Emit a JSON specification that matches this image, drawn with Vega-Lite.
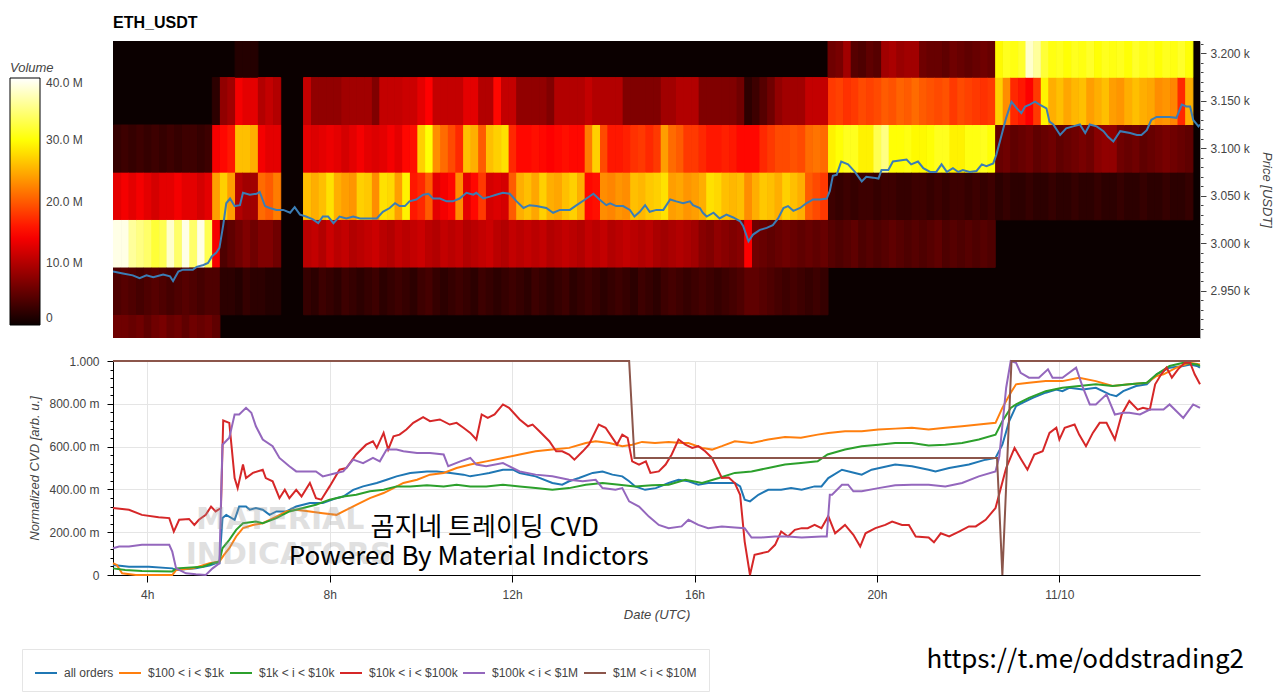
{
"$schema": "https://vega.github.io/schema/vega-lite/v6.json",
"padding": {"left": 10, "top": 15, "right": 4, "bottom": 0},
"background": "white",
"config": {"font": "Liberation Sans", "view": {"stroke": null}},
"datasets": {
"heat": [
{"t":195,"p":2875,"v":6},{"t":195,"p":2925,"v":4},{"t":195,"p":2975,"v":39},{"t":195,"p":3025,"v":13},{"t":195,"p":3075,"v":2.5},
{"t":205,"p":2875,"v":6},{"t":205,"p":2925,"v":4.5},{"t":205,"p":2975,"v":39},{"t":205,"p":3025,"v":14},{"t":205,"p":3075,"v":3},
{"t":215,"p":2875,"v":5.5},{"t":215,"p":2925,"v":4},{"t":215,"p":2975,"v":36},{"t":215,"p":3025,"v":13},{"t":215,"p":3075,"v":2.5},
{"t":225,"p":2875,"v":6},{"t":225,"p":2925,"v":3.5},{"t":225,"p":2975,"v":35},{"t":225,"p":3025,"v":14},{"t":225,"p":3075,"v":3},
{"t":235,"p":2875,"v":5},{"t":235,"p":2925,"v":4},{"t":235,"p":2975,"v":34},{"t":235,"p":3025,"v":13},{"t":235,"p":3075,"v":2.5},
{"t":245,"p":2875,"v":6},{"t":245,"p":2925,"v":4.5},{"t":245,"p":2975,"v":32},{"t":245,"p":3025,"v":12},{"t":245,"p":3075,"v":3},
{"t":255,"p":2875,"v":6.5},{"t":255,"p":2925,"v":4},{"t":255,"p":2975,"v":33},{"t":255,"p":3025,"v":13},{"t":255,"p":3075,"v":2.5},
{"t":265,"p":2875,"v":5.5},{"t":265,"p":2925,"v":3.5},{"t":265,"p":2975,"v":38},{"t":265,"p":3025,"v":13},{"t":265,"p":3075,"v":3},
{"t":275,"p":2875,"v":6},{"t":275,"p":2925,"v":4},{"t":275,"p":2975,"v":34},{"t":275,"p":3025,"v":14},{"t":275,"p":3075,"v":2.5},
{"t":285,"p":2875,"v":5},{"t":285,"p":2925,"v":4.5},{"t":285,"p":2975,"v":39},{"t":285,"p":3025,"v":13},{"t":285,"p":3075,"v":3},
{"t":295,"p":2875,"v":6},{"t":295,"p":2925,"v":4},{"t":295,"p":2975,"v":34},{"t":295,"p":3025,"v":13},{"t":295,"p":3075,"v":3},
{"t":305,"p":2875,"v":5.5},{"t":305,"p":2925,"v":3.5},{"t":305,"p":2975,"v":39},{"t":305,"p":3025,"v":12},{"t":305,"p":3075,"v":2.5},
{"t":315,"p":2875,"v":6},{"t":315,"p":2925,"v":4},{"t":315,"p":2975,"v":33},{"t":315,"p":3025,"v":13},{"t":315,"p":3075,"v":3},
{"t":325,"p":2875,"v":5},{"t":325,"p":2925,"v":4},{"t":325,"p":2975,"v":14},{"t":325,"p":3025,"v":24},{"t":325,"p":3075,"v":14},{"t":325,"p":3125,"v":2},
{"t":335,"p":2925,"v":2},{"t":335,"p":2975,"v":4},{"t":335,"p":3025,"v":27},{"t":335,"p":3075,"v":15},{"t":335,"p":3125,"v":8},
{"t":345,"p":2925,"v":2},{"t":345,"p":2975,"v":5},{"t":345,"p":3025,"v":24},{"t":345,"p":3075,"v":16},{"t":345,"p":3125,"v":9},
{"t":355,"p":2925,"v":1.5},{"t":355,"p":2975,"v":6},{"t":355,"p":3025,"v":10},{"t":355,"p":3075,"v":26},{"t":355,"p":3125,"v":14},{"t":355,"p":3175,"v":1.5},
{"t":365,"p":2925,"v":2.5},{"t":365,"p":2975,"v":7},{"t":365,"p":3025,"v":9},{"t":365,"p":3075,"v":26},{"t":365,"p":3125,"v":13},{"t":365,"p":3175,"v":1.5},
{"t":375,"p":2925,"v":2},{"t":375,"p":2975,"v":6},{"t":375,"p":3025,"v":9},{"t":375,"p":3075,"v":25},{"t":375,"p":3125,"v":13},{"t":375,"p":3175,"v":1.5},
{"t":385,"p":2925,"v":2},{"t":385,"p":2975,"v":7},{"t":385,"p":3025,"v":21},{"t":385,"p":3075,"v":14},{"t":385,"p":3125,"v":10},
{"t":395,"p":2925,"v":1.5},{"t":395,"p":2975,"v":7},{"t":395,"p":3025,"v":20},{"t":395,"p":3075,"v":13},{"t":395,"p":3125,"v":11},
{"t":405,"p":2925,"v":1.5},{"t":405,"p":2975,"v":6},{"t":405,"p":3025,"v":22},{"t":405,"p":3075,"v":13},{"t":405,"p":3125,"v":10},
{"t":445,"p":2925,"v":2.5},{"t":445,"p":2975,"v":10.5},{"t":445,"p":3025,"v":26},{"t":445,"p":3075,"v":13},{"t":445,"p":3125,"v":11},
{"t":455,"p":2925,"v":2},{"t":455,"p":2975,"v":11},{"t":455,"p":3025,"v":25},{"t":455,"p":3075,"v":12.5},{"t":455,"p":3125,"v":8},
{"t":465,"p":2925,"v":3},{"t":465,"p":2975,"v":10},{"t":465,"p":3025,"v":26},{"t":465,"p":3075,"v":13},{"t":465,"p":3125,"v":8},
{"t":475,"p":2925,"v":2.5},{"t":475,"p":2975,"v":11.5},{"t":475,"p":3025,"v":28},{"t":475,"p":3075,"v":13.5},{"t":475,"p":3125,"v":8},
{"t":485,"p":2925,"v":2},{"t":485,"p":2975,"v":10.5},{"t":485,"p":3025,"v":25},{"t":485,"p":3075,"v":13},{"t":485,"p":3125,"v":8},
{"t":495,"p":2925,"v":3},{"t":495,"p":2975,"v":11},{"t":495,"p":3025,"v":24},{"t":495,"p":3075,"v":12},{"t":495,"p":3125,"v":9},
{"t":505,"p":2925,"v":2.5},{"t":505,"p":2975,"v":10},{"t":505,"p":3025,"v":23.5},{"t":505,"p":3075,"v":13},{"t":505,"p":3125,"v":9},
{"t":515,"p":2925,"v":2},{"t":515,"p":2975,"v":10.5},{"t":515,"p":3025,"v":27},{"t":515,"p":3075,"v":14},{"t":515,"p":3125,"v":9},
{"t":525,"p":2925,"v":2.5},{"t":525,"p":2975,"v":11},{"t":525,"p":3025,"v":26.5},{"t":525,"p":3075,"v":13},{"t":525,"p":3125,"v":9},
{"t":535,"p":2925,"v":3},{"t":535,"p":2975,"v":11.5},{"t":535,"p":3025,"v":23},{"t":535,"p":3075,"v":12.5},{"t":535,"p":3125,"v":7},
{"t":545,"p":2925,"v":2},{"t":545,"p":2975,"v":10.5},{"t":545,"p":3025,"v":28},{"t":545,"p":3075,"v":13},{"t":545,"p":3125,"v":11},
{"t":555,"p":2925,"v":2.5},{"t":555,"p":2975,"v":10},{"t":555,"p":3025,"v":27.5},{"t":555,"p":3075,"v":14},{"t":555,"p":3125,"v":11},
{"t":565,"p":2925,"v":3},{"t":565,"p":2975,"v":11},{"t":565,"p":3025,"v":24},{"t":565,"p":3075,"v":13},{"t":565,"p":3125,"v":11},
{"t":575,"p":2925,"v":2.5},{"t":575,"p":2975,"v":10.5},{"t":575,"p":3025,"v":29},{"t":575,"p":3075,"v":15},{"t":575,"p":3125,"v":11.5},
{"t":585,"p":2925,"v":2},{"t":585,"p":2975,"v":11},{"t":585,"p":3025,"v":16},{"t":585,"p":3075,"v":15.5},{"t":585,"p":3125,"v":11.5},
{"t":595,"p":2925,"v":3},{"t":595,"p":2975,"v":11.5},{"t":595,"p":3025,"v":17},{"t":595,"p":3075,"v":27},{"t":595,"p":3125,"v":13},
{"t":605,"p":2925,"v":3.5},{"t":605,"p":2975,"v":10.5},{"t":605,"p":3025,"v":20},{"t":605,"p":3075,"v":30},{"t":605,"p":3125,"v":14.6},
{"t":615,"p":2925,"v":2.5},{"t":615,"p":2975,"v":10},{"t":615,"p":3025,"v":13},{"t":615,"p":3075,"v":23},{"t":615,"p":3125,"v":11},
{"t":625,"p":2925,"v":2},{"t":625,"p":2975,"v":11},{"t":625,"p":3025,"v":14},{"t":625,"p":3075,"v":21},{"t":625,"p":3125,"v":11},
{"t":635,"p":2925,"v":2.5},{"t":635,"p":2975,"v":10.5},{"t":635,"p":3025,"v":15},{"t":635,"p":3075,"v":19},{"t":635,"p":3125,"v":11},
{"t":645,"p":2925,"v":3},{"t":645,"p":2975,"v":11},{"t":645,"p":3025,"v":23},{"t":645,"p":3075,"v":17},{"t":645,"p":3125,"v":11},
{"t":655,"p":2925,"v":2.5},{"t":655,"p":2975,"v":10},{"t":655,"p":3025,"v":13},{"t":655,"p":3075,"v":26},{"t":655,"p":3125,"v":13},
{"t":665,"p":2925,"v":2},{"t":665,"p":2975,"v":10.5},{"t":665,"p":3025,"v":15},{"t":665,"p":3075,"v":25},{"t":665,"p":3125,"v":13},
{"t":675,"p":2925,"v":3},{"t":675,"p":2975,"v":11},{"t":675,"p":3025,"v":18},{"t":675,"p":3075,"v":20},{"t":675,"p":3125,"v":10},
{"t":685,"p":2925,"v":2.5},{"t":685,"p":2975,"v":11.5},{"t":685,"p":3025,"v":12},{"t":685,"p":3075,"v":26},{"t":685,"p":3125,"v":10},
{"t":695,"p":2925,"v":2},{"t":695,"p":2975,"v":10.5},{"t":695,"p":3025,"v":12.5},{"t":695,"p":3075,"v":27},{"t":695,"p":3125,"v":15},
{"t":705,"p":2925,"v":2.5},{"t":705,"p":2975,"v":10},{"t":705,"p":3025,"v":12},{"t":705,"p":3075,"v":28},{"t":705,"p":3125,"v":11},
{"t":715,"p":2925,"v":3},{"t":715,"p":2975,"v":11},{"t":715,"p":3025,"v":20},{"t":715,"p":3075,"v":17},{"t":715,"p":3125,"v":11},
{"t":725,"p":2925,"v":2.5},{"t":725,"p":2975,"v":10.5},{"t":725,"p":3025,"v":25},{"t":725,"p":3075,"v":15},{"t":725,"p":3125,"v":8},
{"t":735,"p":2925,"v":2},{"t":735,"p":2975,"v":11},{"t":735,"p":3025,"v":26},{"t":735,"p":3075,"v":15},{"t":735,"p":3125,"v":8},
{"t":745,"p":2925,"v":3},{"t":745,"p":2975,"v":10.5},{"t":745,"p":3025,"v":24.5},{"t":745,"p":3075,"v":15.5},{"t":745,"p":3125,"v":8},
{"t":755,"p":2925,"v":2.5},{"t":755,"p":2975,"v":11},{"t":755,"p":3025,"v":27},{"t":755,"p":3075,"v":15},{"t":755,"p":3125,"v":8},
{"t":765,"p":2925,"v":2},{"t":765,"p":2975,"v":10},{"t":765,"p":3025,"v":25},{"t":765,"p":3075,"v":14.5},{"t":765,"p":3125,"v":7},
{"t":775,"p":2925,"v":2.5},{"t":775,"p":2975,"v":10.5},{"t":775,"p":3025,"v":24.5},{"t":775,"p":3075,"v":15},{"t":775,"p":3125,"v":10},
{"t":785,"p":2925,"v":3},{"t":785,"p":2975,"v":11},{"t":785,"p":3025,"v":26},{"t":785,"p":3075,"v":15.5},{"t":785,"p":3125,"v":10},
{"t":795,"p":2925,"v":2},{"t":795,"p":2975,"v":10.5},{"t":795,"p":3025,"v":27},{"t":795,"p":3075,"v":15},{"t":795,"p":3125,"v":10},
{"t":805,"p":2925,"v":2.5},{"t":805,"p":2975,"v":10},{"t":805,"p":3025,"v":25},{"t":805,"p":3075,"v":15},{"t":805,"p":3125,"v":10},
{"t":815,"p":2925,"v":3},{"t":815,"p":2975,"v":11},{"t":815,"p":3025,"v":15},{"t":815,"p":3075,"v":22},{"t":815,"p":3125,"v":11},
{"t":825,"p":2925,"v":2.5},{"t":825,"p":2975,"v":10.5},{"t":825,"p":3025,"v":15.5},{"t":825,"p":3075,"v":27},{"t":825,"p":3125,"v":10},
{"t":835,"p":2925,"v":2},{"t":835,"p":2975,"v":11},{"t":835,"p":3025,"v":23},{"t":835,"p":3075,"v":19},{"t":835,"p":3125,"v":10},
{"t":845,"p":2925,"v":2.5},{"t":845,"p":2975,"v":10},{"t":845,"p":3025,"v":22.5},{"t":845,"p":3075,"v":16},{"t":845,"p":3125,"v":10},
{"t":855,"p":2925,"v":3},{"t":855,"p":2975,"v":10.5},{"t":855,"p":3025,"v":23.5},{"t":855,"p":3075,"v":16},{"t":855,"p":3125,"v":10},
{"t":865,"p":2925,"v":2.5},{"t":865,"p":2975,"v":11},{"t":865,"p":3025,"v":23},{"t":865,"p":3075,"v":16.5},{"t":865,"p":3125,"v":7},
{"t":875,"p":2925,"v":2},{"t":875,"p":2975,"v":10.5},{"t":875,"p":3025,"v":26},{"t":875,"p":3075,"v":17.5},{"t":875,"p":3125,"v":7},
{"t":885,"p":2925,"v":3},{"t":885,"p":2975,"v":10},{"t":885,"p":3025,"v":25.5},{"t":885,"p":3075,"v":18},{"t":885,"p":3125,"v":7},
{"t":895,"p":2925,"v":2.5},{"t":895,"p":2975,"v":10.5},{"t":895,"p":3025,"v":26.5},{"t":895,"p":3075,"v":17},{"t":895,"p":3125,"v":7},
{"t":905,"p":2925,"v":2},{"t":905,"p":2975,"v":9.5},{"t":905,"p":3025,"v":27},{"t":905,"p":3075,"v":18},{"t":905,"p":3125,"v":7},
{"t":915,"p":2925,"v":3},{"t":915,"p":2975,"v":9},{"t":915,"p":3025,"v":28},{"t":915,"p":3075,"v":24},{"t":915,"p":3125,"v":9},
{"t":925,"p":2925,"v":3.5},{"t":925,"p":2975,"v":9.5},{"t":925,"p":3025,"v":24},{"t":925,"p":3075,"v":21},{"t":925,"p":3125,"v":9},
{"t":935,"p":2925,"v":3},{"t":935,"p":2975,"v":10},{"t":935,"p":3025,"v":24.5},{"t":935,"p":3075,"v":20},{"t":935,"p":3125,"v":10},
{"t":945,"p":2925,"v":2.5},{"t":945,"p":2975,"v":9.5},{"t":945,"p":3025,"v":23.5},{"t":945,"p":3075,"v":18},{"t":945,"p":3125,"v":10},
{"t":955,"p":2925,"v":3},{"t":955,"p":2975,"v":9},{"t":955,"p":3025,"v":24},{"t":955,"p":3075,"v":18},{"t":955,"p":3125,"v":10},
{"t":965,"p":2925,"v":3.5},{"t":965,"p":2975,"v":7.5},{"t":965,"p":3025,"v":25},{"t":965,"p":3075,"v":17},{"t":965,"p":3125,"v":7},
{"t":975,"p":2925,"v":3},{"t":975,"p":2975,"v":7},{"t":975,"p":3025,"v":28},{"t":975,"p":3075,"v":16},{"t":975,"p":3125,"v":7},
{"t":985,"p":2925,"v":2.5},{"t":985,"p":2975,"v":8},{"t":985,"p":3025,"v":27.5},{"t":985,"p":3075,"v":16},{"t":985,"p":3125,"v":7},
{"t":995,"p":2925,"v":3},{"t":995,"p":2975,"v":7.5},{"t":995,"p":3025,"v":26},{"t":995,"p":3075,"v":16.5},{"t":995,"p":3125,"v":7},
{"t":1005,"p":2925,"v":3.5},{"t":1005,"p":2975,"v":7},{"t":1005,"p":3025,"v":25.5},{"t":1005,"p":3075,"v":16},{"t":1005,"p":3125,"v":7},
{"t":1015,"p":2925,"v":4},{"t":1015,"p":2975,"v":7.5},{"t":1015,"p":3025,"v":26},{"t":1015,"p":3075,"v":15},{"t":1015,"p":3125,"v":6},
{"t":1025,"p":2925,"v":5},{"t":1025,"p":2975,"v":14.5},{"t":1025,"p":3025,"v":23},{"t":1025,"p":3075,"v":15},{"t":1025,"p":3125,"v":2},
{"t":1035,"p":2925,"v":5},{"t":1035,"p":2975,"v":6},{"t":1035,"p":3025,"v":25},{"t":1035,"p":3075,"v":15},{"t":1035,"p":3125,"v":3},
{"t":1045,"p":2925,"v":4.5},{"t":1045,"p":2975,"v":5.5},{"t":1045,"p":3025,"v":26.5},{"t":1045,"p":3075,"v":17},{"t":1045,"p":3125,"v":4.5},
{"t":1055,"p":2925,"v":4},{"t":1055,"p":2975,"v":5},{"t":1055,"p":3025,"v":26},{"t":1055,"p":3075,"v":18},{"t":1055,"p":3125,"v":6},
{"t":1065,"p":2925,"v":3.5},{"t":1065,"p":2975,"v":5.5},{"t":1065,"p":3025,"v":25},{"t":1065,"p":3075,"v":19},{"t":1065,"p":3125,"v":8},
{"t":1075,"p":2925,"v":3},{"t":1075,"p":2975,"v":6},{"t":1075,"p":3025,"v":27},{"t":1075,"p":3075,"v":19},{"t":1075,"p":3125,"v":9},
{"t":1085,"p":2925,"v":3.5},{"t":1085,"p":2975,"v":5.5},{"t":1085,"p":3025,"v":26},{"t":1085,"p":3075,"v":19.5},{"t":1085,"p":3125,"v":9},
{"t":1095,"p":2925,"v":3},{"t":1095,"p":2975,"v":5},{"t":1095,"p":3025,"v":25},{"t":1095,"p":3075,"v":19},{"t":1095,"p":3125,"v":9},
{"t":1105,"p":2925,"v":2.5},{"t":1105,"p":2975,"v":5.5},{"t":1105,"p":3025,"v":20},{"t":1105,"p":3075,"v":21},{"t":1105,"p":3125,"v":11},
{"t":1115,"p":2925,"v":3},{"t":1115,"p":2975,"v":5},{"t":1115,"p":3025,"v":19},{"t":1115,"p":3075,"v":21.5},{"t":1115,"p":3125,"v":11},
{"t":1125,"p":2925,"v":2.5},{"t":1125,"p":2975,"v":5.5},{"t":1125,"p":3025,"v":18},{"t":1125,"p":3075,"v":21},{"t":1125,"p":3125,"v":11},
{"t":1135,"p":2975,"v":4.5},{"t":1135,"p":3025,"v":3},{"t":1135,"p":3075,"v":29},{"t":1135,"p":3125,"v":18},{"t":1135,"p":3175,"v":6},
{"t":1145,"p":2975,"v":4},{"t":1145,"p":3025,"v":2.5},{"t":1145,"p":3075,"v":30},{"t":1145,"p":3125,"v":18.5},{"t":1145,"p":3175,"v":6.5},
{"t":1155,"p":2975,"v":4.5},{"t":1155,"p":3025,"v":3},{"t":1155,"p":3075,"v":31},{"t":1155,"p":3125,"v":17.5},{"t":1155,"p":3175,"v":9},
{"t":1165,"p":2975,"v":5},{"t":1165,"p":3025,"v":2.5},{"t":1165,"p":3075,"v":31},{"t":1165,"p":3125,"v":18},{"t":1165,"p":3175,"v":4.5},
{"t":1175,"p":2975,"v":4},{"t":1175,"p":3025,"v":3},{"t":1175,"p":3075,"v":29},{"t":1175,"p":3125,"v":19},{"t":1175,"p":3175,"v":4},
{"t":1185,"p":2975,"v":4.5},{"t":1185,"p":3025,"v":3},{"t":1185,"p":3075,"v":29},{"t":1185,"p":3125,"v":18.5},{"t":1185,"p":3175,"v":5},
{"t":1195,"p":2975,"v":4},{"t":1195,"p":3025,"v":2.5},{"t":1195,"p":3075,"v":33},{"t":1195,"p":3125,"v":19},{"t":1195,"p":3175,"v":4.5},
{"t":1205,"p":2975,"v":4.5},{"t":1205,"p":3025,"v":3},{"t":1205,"p":3075,"v":35},{"t":1205,"p":3125,"v":20},{"t":1205,"p":3175,"v":9},
{"t":1215,"p":2975,"v":5},{"t":1215,"p":3025,"v":3},{"t":1215,"p":3075,"v":30},{"t":1215,"p":3125,"v":19.5},{"t":1215,"p":3175,"v":9.5},
{"t":1225,"p":2975,"v":4.5},{"t":1225,"p":3025,"v":2.5},{"t":1225,"p":3075,"v":30},{"t":1225,"p":3125,"v":20.5},{"t":1225,"p":3175,"v":8.5},
{"t":1235,"p":2975,"v":4},{"t":1235,"p":3025,"v":2.5},{"t":1235,"p":3075,"v":30.5},{"t":1235,"p":3125,"v":20},{"t":1235,"p":3175,"v":9},
{"t":1245,"p":2975,"v":4.5},{"t":1245,"p":3025,"v":3},{"t":1245,"p":3075,"v":29.5},{"t":1245,"p":3125,"v":21},{"t":1245,"p":3175,"v":9},
{"t":1255,"p":2975,"v":4},{"t":1255,"p":3025,"v":3},{"t":1255,"p":3075,"v":29.5},{"t":1255,"p":3125,"v":20},{"t":1255,"p":3175,"v":6},
{"t":1265,"p":2975,"v":4.5},{"t":1265,"p":3025,"v":2.5},{"t":1265,"p":3075,"v":30},{"t":1265,"p":3125,"v":19.5},{"t":1265,"p":3175,"v":5.5},
{"t":1275,"p":2975,"v":5},{"t":1275,"p":3025,"v":3},{"t":1275,"p":3075,"v":31},{"t":1275,"p":3125,"v":19},{"t":1275,"p":3175,"v":5.5},
{"t":1285,"p":2975,"v":4},{"t":1285,"p":3025,"v":2.5},{"t":1285,"p":3075,"v":31},{"t":1285,"p":3125,"v":19.5},{"t":1285,"p":3175,"v":5},
{"t":1295,"p":2975,"v":4.5},{"t":1295,"p":3025,"v":3},{"t":1295,"p":3075,"v":29},{"t":1295,"p":3125,"v":18},{"t":1295,"p":3175,"v":6},
{"t":1305,"p":2975,"v":4},{"t":1305,"p":3025,"v":3},{"t":1305,"p":3075,"v":29},{"t":1305,"p":3125,"v":19},{"t":1305,"p":3175,"v":5.5},
{"t":1315,"p":2975,"v":4.5},{"t":1315,"p":3025,"v":2.5},{"t":1315,"p":3075,"v":30.5},{"t":1315,"p":3125,"v":18.5},{"t":1315,"p":3175,"v":5},
{"t":1325,"p":2975,"v":4},{"t":1325,"p":3025,"v":3},{"t":1325,"p":3075,"v":30.5},{"t":1325,"p":3125,"v":18},{"t":1325,"p":3175,"v":5.5},
{"t":1335,"p":2975,"v":4.5},{"t":1335,"p":3025,"v":2.5},{"t":1335,"p":3075,"v":31},{"t":1335,"p":3125,"v":17.5},{"t":1335,"p":3175,"v":6},
{"t":1345,"p":2975,"v":4},{"t":1345,"p":3025,"v":3},{"t":1345,"p":3075,"v":30},{"t":1345,"p":3125,"v":18},{"t":1345,"p":3175,"v":5.5},
{"t":1355,"p":3025,"v":2},{"t":1355,"p":3075,"v":5.5},{"t":1355,"p":3125,"v":27},{"t":1355,"p":3175,"v":29.5},
{"t":1365,"p":3025,"v":2.5},{"t":1365,"p":3075,"v":6},{"t":1365,"p":3125,"v":23},{"t":1365,"p":3175,"v":31},
{"t":1375,"p":3025,"v":2},{"t":1375,"p":3075,"v":5},{"t":1375,"p":3125,"v":17},{"t":1375,"p":3175,"v":30.5},
{"t":1385,"p":3025,"v":2},{"t":1385,"p":3075,"v":5.5},{"t":1385,"p":3125,"v":16},{"t":1385,"p":3175,"v":31.5},
{"t":1395,"p":3025,"v":2.5},{"t":1395,"p":3075,"v":6},{"t":1395,"p":3125,"v":14.5},{"t":1395,"p":3175,"v":38},
{"t":1405,"p":3025,"v":2},{"t":1405,"p":3075,"v":5},{"t":1405,"p":3125,"v":18},{"t":1405,"p":3175,"v":36},
{"t":1415,"p":3025,"v":2},{"t":1415,"p":3075,"v":5.5},{"t":1415,"p":3125,"v":29},{"t":1415,"p":3175,"v":32},
{"t":1425,"p":3025,"v":2.5},{"t":1425,"p":3075,"v":6},{"t":1425,"p":3125,"v":25},{"t":1425,"p":3175,"v":30.5},
{"t":1435,"p":3025,"v":2},{"t":1435,"p":3075,"v":5},{"t":1435,"p":3125,"v":26},{"t":1435,"p":3175,"v":31},
{"t":1445,"p":3025,"v":2},{"t":1445,"p":3075,"v":5.5},{"t":1445,"p":3125,"v":24.5},{"t":1445,"p":3175,"v":30},
{"t":1455,"p":3025,"v":2.5},{"t":1455,"p":3075,"v":6},{"t":1455,"p":3125,"v":25.5},{"t":1455,"p":3175,"v":31},
{"t":1465,"p":3025,"v":2},{"t":1465,"p":3075,"v":6.5},{"t":1465,"p":3125,"v":26},{"t":1465,"p":3175,"v":30.5},
{"t":1475,"p":3025,"v":2},{"t":1475,"p":3075,"v":6},{"t":1475,"p":3125,"v":24},{"t":1475,"p":3175,"v":31.5},
{"t":1485,"p":3025,"v":2.5},{"t":1485,"p":3075,"v":7.5},{"t":1485,"p":3125,"v":25},{"t":1485,"p":3175,"v":30},
{"t":1495,"p":3025,"v":2},{"t":1495,"p":3075,"v":8},{"t":1495,"p":3125,"v":26},{"t":1495,"p":3175,"v":31},
{"t":1505,"p":3025,"v":2},{"t":1505,"p":3075,"v":8},{"t":1505,"p":3125,"v":24},{"t":1505,"p":3175,"v":30.5},
{"t":1515,"p":3025,"v":2.5},{"t":1515,"p":3075,"v":6},{"t":1515,"p":3125,"v":23.5},{"t":1515,"p":3175,"v":31},
{"t":1525,"p":3025,"v":2},{"t":1525,"p":3075,"v":5.5},{"t":1525,"p":3125,"v":25},{"t":1525,"p":3175,"v":30},
{"t":1535,"p":3025,"v":2},{"t":1535,"p":3075,"v":6},{"t":1535,"p":3125,"v":26},{"t":1535,"p":3175,"v":31.5},
{"t":1545,"p":3025,"v":2.5},{"t":1545,"p":3075,"v":5},{"t":1545,"p":3125,"v":25},{"t":1545,"p":3175,"v":30.5},
{"t":1555,"p":3025,"v":2},{"t":1555,"p":3075,"v":5.5},{"t":1555,"p":3125,"v":24.5},{"t":1555,"p":3175,"v":31},
{"t":1565,"p":3025,"v":2},{"t":1565,"p":3075,"v":6},{"t":1565,"p":3125,"v":23},{"t":1565,"p":3175,"v":30},
{"t":1575,"p":3025,"v":2.5},{"t":1575,"p":3075,"v":6.5},{"t":1575,"p":3125,"v":23.5},{"t":1575,"p":3175,"v":31},
{"t":1585,"p":3025,"v":2},{"t":1585,"p":3075,"v":6},{"t":1585,"p":3125,"v":22.5},{"t":1585,"p":3175,"v":30.5},
{"t":1595,"p":3025,"v":2},{"t":1595,"p":3075,"v":5.5},{"t":1595,"p":3125,"v":17},{"t":1595,"p":3175,"v":31.5},
{"t":1605,"p":3025,"v":2.5},{"t":1605,"p":3075,"v":5},{"t":1605,"p":3125,"v":25},{"t":1605,"p":3175,"v":30}
],
"price": [
{"t":195,"price":2970},{"t":208,"price":2968},{"t":221,"price":2966},{"t":230,"price":2963},{"t":239,"price":2966},{"t":248,"price":2964},{"t":261,"price":2967},{"t":270,"price":2965},{"t":274,"price":2960},{"t":281,"price":2970},{"t":287,"price":2972},{"t":300,"price":2972},{"t":305,"price":2975},{"t":314,"price":2977},{"t":320,"price":2979},{"t":325,"price":2986},{"t":331,"price":2990},{"t":335,"price":2995},{"t":340,"price":3019},{"t":344,"price":3042},{"t":349,"price":3047},{"t":355,"price":3039},{"t":362,"price":3040},{"t":366,"price":3053},{"t":375,"price":3051},{"t":384,"price":3052},{"t":388,"price":3054},{"t":395,"price":3039},{"t":401,"price":3037},{"t":410,"price":3035},{"t":419,"price":3035},{"t":428,"price":3032},{"t":434,"price":3038},{"t":441,"price":3030},{"t":449,"price":3028},{"t":458,"price":3025},{"t":465,"price":3021},{"t":471,"price":3028},{"t":478,"price":3028},{"t":485,"price":3021},{"t":493,"price":3028},{"t":502,"price":3026},{"t":511,"price":3028},{"t":520,"price":3026},{"t":533,"price":3026},{"t":542,"price":3026},{"t":550,"price":3033},{"t":559,"price":3037},{"t":566,"price":3042},{"t":572,"price":3039},{"t":579,"price":3039},{"t":585,"price":3044},{"t":594,"price":3046},{"t":603,"price":3051},{"t":610,"price":3052},{"t":616,"price":3047},{"t":625,"price":3047},{"t":634,"price":3044},{"t":642,"price":3044},{"t":651,"price":3047},{"t":660,"price":3053},{"t":669,"price":3051},{"t":673,"price":3053},{"t":682,"price":3047},{"t":691,"price":3049},{"t":699,"price":3051},{"t":708,"price":3053},{"t":717,"price":3052},{"t":726,"price":3044},{"t":735,"price":3037},{"t":743,"price":3040},{"t":752,"price":3039},{"t":765,"price":3037},{"t":774,"price":3032},{"t":783,"price":3035},{"t":796,"price":3035},{"t":805,"price":3040},{"t":816,"price":3046},{"t":827,"price":3052},{"t":835,"price":3046},{"t":844,"price":3040},{"t":849,"price":3042},{"t":857,"price":3039},{"t":866,"price":3039},{"t":875,"price":3035},{"t":881,"price":3028},{"t":888,"price":3033},{"t":895,"price":3040},{"t":901,"price":3033},{"t":910,"price":3035},{"t":919,"price":3035},{"t":928,"price":3046},{"t":936,"price":3044},{"t":945,"price":3042},{"t":954,"price":3044},{"t":958,"price":3040},{"t":967,"price":3037},{"t":971,"price":3032},{"t":976,"price":3028},{"t":985,"price":3032},{"t":993,"price":3026},{"t":1002,"price":3030},{"t":1011,"price":3027},{"t":1020,"price":3023},{"t":1024,"price":3018},{"t":1031,"price":3002},{"t":1037,"price":3009},{"t":1046,"price":3014},{"t":1055,"price":3016},{"t":1063,"price":3019},{"t":1070,"price":3026},{"t":1077,"price":3037},{"t":1083,"price":3039},{"t":1090,"price":3034},{"t":1099,"price":3037},{"t":1107,"price":3042},{"t":1116,"price":3046},{"t":1125,"price":3046},{"t":1134,"price":3047},{"t":1138,"price":3055},{"t":1142,"price":3071},{"t":1147,"price":3072},{"t":1153,"price":3086},{"t":1162,"price":3083},{"t":1171,"price":3075},{"t":1180,"price":3065},{"t":1186,"price":3070},{"t":1195,"price":3069},{"t":1202,"price":3068},{"t":1206,"price":3077},{"t":1215,"price":3077},{"t":1221,"price":3086},{"t":1230,"price":3087},{"t":1239,"price":3088},{"t":1245,"price":3083},{"t":1254,"price":3086},{"t":1261,"price":3079},{"t":1270,"price":3075},{"t":1278,"price":3075},{"t":1285,"price":3083},{"t":1292,"price":3075},{"t":1300,"price":3079},{"t":1307,"price":3075},{"t":1313,"price":3077},{"t":1322,"price":3075},{"t":1331,"price":3076},{"t":1338,"price":3083},{"t":1344,"price":3081},{"t":1353,"price":3084},{"t":1357,"price":3093},{"t":1364,"price":3114},{"t":1370,"price":3132},{"t":1377,"price":3149},{"t":1384,"price":3142},{"t":1390,"price":3137},{"t":1395,"price":3144},{"t":1401,"price":3146},{"t":1408,"price":3149},{"t":1414,"price":3146},{"t":1423,"price":3142},{"t":1427,"price":3128},{"t":1432,"price":3125},{"t":1441,"price":3114},{"t":1449,"price":3121},{"t":1458,"price":3123},{"t":1467,"price":3125},{"t":1474,"price":3116},{"t":1480,"price":3125},{"t":1489,"price":3123},{"t":1498,"price":3118},{"t":1504,"price":3112},{"t":1511,"price":3107},{"t":1520,"price":3118},{"t":1533,"price":3116},{"t":1542,"price":3114},{"t":1548,"price":3114},{"t":1555,"price":3119},{"t":1561,"price":3130},{"t":1568,"price":3133},{"t":1577,"price":3133},{"t":1585,"price":3133},{"t":1594,"price":3132},{"t":1601,"price":3146},{"t":1607,"price":3144},{"t":1612,"price":3144},{"t":1616,"price":3130},{"t":1623,"price":3123},{"t":1625,"price":3125}
],
"cvd": [
{"t":195,"v":0.047,"s":"a"},{"t":216,"v":0.039,"s":"a"},{"t":242,"v":0.039,"s":"a"},{"t":273,"v":0.031,"s":"a"},{"t":278,"v":0.023,"s":"a"},{"t":304,"v":0.031,"s":"a"},{"t":322,"v":0.044,"s":"a"},{"t":330,"v":0.055,"s":"a"},{"t":335,"v":0.055,"s":"a"},{"t":339,"v":0.266,"s":"a"},{"t":344,"v":0.281,"s":"a"},{"t":355,"v":0.258,"s":"a"},{"t":361,"v":0.32,"s":"a"},{"t":370,"v":0.32,"s":"a"},{"t":375,"v":0.305,"s":"a"},{"t":383,"v":0.313,"s":"a"},{"t":392,"v":0.305,"s":"a"},{"t":401,"v":0.281,"s":"a"},{"t":410,"v":0.297,"s":"a"},{"t":423,"v":0.297,"s":"a"},{"t":436,"v":0.32,"s":"a"},{"t":454,"v":0.336,"s":"a"},{"t":471,"v":0.336,"s":"a"},{"t":489,"v":0.359,"s":"a"},{"t":498,"v":0.367,"s":"a"},{"t":511,"v":0.398,"s":"a"},{"t":524,"v":0.414,"s":"a"},{"t":542,"v":0.43,"s":"a"},{"t":555,"v":0.445,"s":"a"},{"t":568,"v":0.461,"s":"a"},{"t":586,"v":0.477,"s":"a"},{"t":608,"v":0.484,"s":"a"},{"t":621,"v":0.484,"s":"a"},{"t":639,"v":0.477,"s":"a"},{"t":656,"v":0.469,"s":"a"},{"t":665,"v":0.461,"s":"a"},{"t":678,"v":0.469,"s":"a"},{"t":690,"v":0.477,"s":"a"},{"t":708,"v":0.492,"s":"a"},{"t":721,"v":0.492,"s":"a"},{"t":730,"v":0.477,"s":"a"},{"t":751,"v":0.461,"s":"a"},{"t":773,"v":0.43,"s":"a"},{"t":786,"v":0.422,"s":"a"},{"t":795,"v":0.438,"s":"a"},{"t":808,"v":0.453,"s":"a"},{"t":826,"v":0.477,"s":"a"},{"t":839,"v":0.484,"s":"a"},{"t":852,"v":0.469,"s":"a"},{"t":865,"v":0.461,"s":"a"},{"t":874,"v":0.438,"s":"a"},{"t":882,"v":0.414,"s":"a"},{"t":895,"v":0.398,"s":"a"},{"t":909,"v":0.406,"s":"a"},{"t":926,"v":0.43,"s":"a"},{"t":939,"v":0.445,"s":"a"},{"t":952,"v":0.438,"s":"a"},{"t":965,"v":0.422,"s":"a"},{"t":978,"v":0.43,"s":"a"},{"t":996,"v":0.43,"s":"a"},{"t":1013,"v":0.43,"s":"a"},{"t":1020,"v":0.414,"s":"a"},{"t":1026,"v":0.352,"s":"a"},{"t":1033,"v":0.344,"s":"a"},{"t":1044,"v":0.375,"s":"a"},{"t":1057,"v":0.398,"s":"a"},{"t":1074,"v":0.398,"s":"a"},{"t":1087,"v":0.406,"s":"a"},{"t":1101,"v":0.398,"s":"a"},{"t":1118,"v":0.414,"s":"a"},{"t":1127,"v":0.414,"s":"a"},{"t":1136,"v":0.453,"s":"a"},{"t":1154,"v":0.492,"s":"a"},{"t":1171,"v":0.477,"s":"a"},{"t":1180,"v":0.469,"s":"a"},{"t":1193,"v":0.492,"s":"a"},{"t":1224,"v":0.516,"s":"a"},{"t":1246,"v":0.508,"s":"a"},{"t":1268,"v":0.492,"s":"a"},{"t":1277,"v":0.484,"s":"a"},{"t":1295,"v":0.5,"s":"a"},{"t":1321,"v":0.516,"s":"a"},{"t":1343,"v":0.539,"s":"a"},{"t":1356,"v":0.547,"s":"a"},{"t":1365,"v":0.609,"s":"a"},{"t":1374,"v":0.719,"s":"a"},{"t":1383,"v":0.789,"s":"a"},{"t":1392,"v":0.805,"s":"a"},{"t":1405,"v":0.828,"s":"a"},{"t":1422,"v":0.852,"s":"a"},{"t":1436,"v":0.867,"s":"a"},{"t":1444,"v":0.859,"s":"a"},{"t":1453,"v":0.875,"s":"a"},{"t":1471,"v":0.867,"s":"a"},{"t":1488,"v":0.875,"s":"a"},{"t":1506,"v":0.844,"s":"a"},{"t":1515,"v":0.836,"s":"a"},{"t":1524,"v":0.859,"s":"a"},{"t":1541,"v":0.883,"s":"a"},{"t":1555,"v":0.891,"s":"a"},{"t":1568,"v":0.938,"s":"a"},{"t":1585,"v":0.969,"s":"a"},{"t":1603,"v":0.977,"s":"a"},{"t":1612,"v":0.984,"s":"a"},{"t":1621,"v":0.977,"s":"a"},{"t":1625,"v":0.969,"s":"a"},
{"t":195,"v":0.055,"s":"b"},{"t":200,"v":0.047,"s":"b"},{"t":207,"v":0.008,"s":"b"},{"t":225,"v":0,"s":"b"},{"t":273,"v":0,"s":"b"},{"t":278,"v":0.023,"s":"b"},{"t":300,"v":0.031,"s":"b"},{"t":322,"v":0.055,"s":"b"},{"t":335,"v":0.063,"s":"b"},{"t":341,"v":0.094,"s":"b"},{"t":348,"v":0.125,"s":"b"},{"t":357,"v":0.18,"s":"b"},{"t":366,"v":0.219,"s":"b"},{"t":379,"v":0.234,"s":"b"},{"t":392,"v":0.242,"s":"b"},{"t":410,"v":0.273,"s":"b"},{"t":423,"v":0.297,"s":"b"},{"t":436,"v":0.305,"s":"b"},{"t":454,"v":0.297,"s":"b"},{"t":471,"v":0.289,"s":"b"},{"t":489,"v":0.281,"s":"b"},{"t":498,"v":0.297,"s":"b"},{"t":515,"v":0.328,"s":"b"},{"t":533,"v":0.359,"s":"b"},{"t":551,"v":0.383,"s":"b"},{"t":564,"v":0.406,"s":"b"},{"t":577,"v":0.43,"s":"b"},{"t":595,"v":0.445,"s":"b"},{"t":612,"v":0.469,"s":"b"},{"t":630,"v":0.477,"s":"b"},{"t":647,"v":0.5,"s":"b"},{"t":665,"v":0.516,"s":"b"},{"t":686,"v":0.531,"s":"b"},{"t":708,"v":0.547,"s":"b"},{"t":730,"v":0.563,"s":"b"},{"t":751,"v":0.578,"s":"b"},{"t":773,"v":0.586,"s":"b"},{"t":795,"v":0.594,"s":"b"},{"t":817,"v":0.617,"s":"b"},{"t":830,"v":0.625,"s":"b"},{"t":848,"v":0.617,"s":"b"},{"t":865,"v":0.602,"s":"b"},{"t":878,"v":0.609,"s":"b"},{"t":891,"v":0.622,"s":"b"},{"t":908,"v":0.617,"s":"b"},{"t":926,"v":0.622,"s":"b"},{"t":943,"v":0.617,"s":"b"},{"t":952,"v":0.617,"s":"b"},{"t":970,"v":0.594,"s":"b"},{"t":983,"v":0.586,"s":"b"},{"t":996,"v":0.602,"s":"b"},{"t":1013,"v":0.625,"s":"b"},{"t":1035,"v":0.617,"s":"b"},{"t":1057,"v":0.633,"s":"b"},{"t":1079,"v":0.645,"s":"b"},{"t":1100,"v":0.641,"s":"b"},{"t":1122,"v":0.656,"s":"b"},{"t":1136,"v":0.664,"s":"b"},{"t":1158,"v":0.672,"s":"b"},{"t":1180,"v":0.672,"s":"b"},{"t":1202,"v":0.68,"s":"b"},{"t":1224,"v":0.684,"s":"b"},{"t":1246,"v":0.688,"s":"b"},{"t":1268,"v":0.68,"s":"b"},{"t":1290,"v":0.688,"s":"b"},{"t":1312,"v":0.695,"s":"b"},{"t":1334,"v":0.703,"s":"b"},{"t":1356,"v":0.711,"s":"b"},{"t":1365,"v":0.781,"s":"b"},{"t":1376,"v":0.852,"s":"b"},{"t":1383,"v":0.891,"s":"b"},{"t":1400,"v":0.898,"s":"b"},{"t":1422,"v":0.906,"s":"b"},{"t":1444,"v":0.906,"s":"b"},{"t":1466,"v":0.922,"s":"b"},{"t":1488,"v":0.906,"s":"b"},{"t":1510,"v":0.883,"s":"b"},{"t":1532,"v":0.891,"s":"b"},{"t":1555,"v":0.898,"s":"b"},{"t":1568,"v":0.93,"s":"b"},{"t":1577,"v":0.938,"s":"b"},{"t":1594,"v":0.969,"s":"b"},{"t":1612,"v":0.992,"s":"b"},{"t":1625,"v":0.984,"s":"b"},
{"t":195,"v":0.031,"s":"c"},{"t":211,"v":0.023,"s":"c"},{"t":233,"v":0.019,"s":"c"},{"t":273,"v":0.016,"s":"c"},{"t":278,"v":0.031,"s":"c"},{"t":313,"v":0.039,"s":"c"},{"t":326,"v":0.055,"s":"c"},{"t":335,"v":0.063,"s":"c"},{"t":339,"v":0.125,"s":"c"},{"t":348,"v":0.164,"s":"c"},{"t":357,"v":0.211,"s":"c"},{"t":366,"v":0.242,"s":"c"},{"t":383,"v":0.25,"s":"c"},{"t":392,"v":0.242,"s":"c"},{"t":410,"v":0.266,"s":"c"},{"t":427,"v":0.297,"s":"c"},{"t":445,"v":0.313,"s":"c"},{"t":462,"v":0.328,"s":"c"},{"t":480,"v":0.352,"s":"c"},{"t":498,"v":0.367,"s":"c"},{"t":515,"v":0.375,"s":"c"},{"t":533,"v":0.391,"s":"c"},{"t":551,"v":0.398,"s":"c"},{"t":568,"v":0.414,"s":"c"},{"t":586,"v":0.414,"s":"c"},{"t":608,"v":0.419,"s":"c"},{"t":630,"v":0.414,"s":"c"},{"t":647,"v":0.422,"s":"c"},{"t":665,"v":0.414,"s":"c"},{"t":686,"v":0.414,"s":"c"},{"t":708,"v":0.422,"s":"c"},{"t":730,"v":0.414,"s":"c"},{"t":751,"v":0.406,"s":"c"},{"t":773,"v":0.398,"s":"c"},{"t":795,"v":0.406,"s":"c"},{"t":817,"v":0.422,"s":"c"},{"t":839,"v":0.43,"s":"c"},{"t":861,"v":0.422,"s":"c"},{"t":882,"v":0.414,"s":"c"},{"t":904,"v":0.419,"s":"c"},{"t":926,"v":0.422,"s":"c"},{"t":948,"v":0.445,"s":"c"},{"t":970,"v":0.43,"s":"c"},{"t":992,"v":0.453,"s":"c"},{"t":1013,"v":0.477,"s":"c"},{"t":1035,"v":0.484,"s":"c"},{"t":1057,"v":0.5,"s":"c"},{"t":1079,"v":0.516,"s":"c"},{"t":1100,"v":0.523,"s":"c"},{"t":1122,"v":0.531,"s":"c"},{"t":1135,"v":0.563,"s":"c"},{"t":1158,"v":0.586,"s":"c"},{"t":1180,"v":0.602,"s":"c"},{"t":1202,"v":0.609,"s":"c"},{"t":1224,"v":0.617,"s":"c"},{"t":1246,"v":0.617,"s":"c"},{"t":1268,"v":0.605,"s":"c"},{"t":1290,"v":0.609,"s":"c"},{"t":1312,"v":0.617,"s":"c"},{"t":1334,"v":0.633,"s":"c"},{"t":1356,"v":0.656,"s":"c"},{"t":1365,"v":0.719,"s":"c"},{"t":1376,"v":0.781,"s":"c"},{"t":1383,"v":0.797,"s":"c"},{"t":1400,"v":0.828,"s":"c"},{"t":1422,"v":0.859,"s":"c"},{"t":1444,"v":0.875,"s":"c"},{"t":1466,"v":0.883,"s":"c"},{"t":1488,"v":0.891,"s":"c"},{"t":1510,"v":0.883,"s":"c"},{"t":1532,"v":0.891,"s":"c"},{"t":1555,"v":0.898,"s":"c"},{"t":1568,"v":0.938,"s":"c"},{"t":1585,"v":0.977,"s":"c"},{"t":1603,"v":0.992,"s":"c"},{"t":1621,"v":0.984,"s":"c"},{"t":1625,"v":0.977,"s":"c"},
{"t":195,"v":0.313,"s":"d"},{"t":216,"v":0.305,"s":"d"},{"t":233,"v":0.281,"s":"d"},{"t":255,"v":0.27,"s":"d"},{"t":269,"v":0.266,"s":"d"},{"t":275,"v":0.203,"s":"d"},{"t":282,"v":0.258,"s":"d"},{"t":295,"v":0.262,"s":"d"},{"t":302,"v":0.234,"s":"d"},{"t":308,"v":0.258,"s":"d"},{"t":317,"v":0.281,"s":"d"},{"t":324,"v":0.32,"s":"d"},{"t":330,"v":0.297,"s":"d"},{"t":337,"v":0.313,"s":"d"},{"t":340,"v":0.722,"s":"d"},{"t":348,"v":0.711,"s":"d"},{"t":355,"v":0.453,"s":"d"},{"t":359,"v":0.406,"s":"d"},{"t":366,"v":0.516,"s":"d"},{"t":370,"v":0.453,"s":"d"},{"t":379,"v":0.477,"s":"d"},{"t":392,"v":0.492,"s":"d"},{"t":396,"v":0.453,"s":"d"},{"t":405,"v":0.438,"s":"d"},{"t":414,"v":0.359,"s":"d"},{"t":421,"v":0.398,"s":"d"},{"t":427,"v":0.359,"s":"d"},{"t":436,"v":0.398,"s":"d"},{"t":443,"v":0.367,"s":"d"},{"t":454,"v":0.43,"s":"d"},{"t":462,"v":0.359,"s":"d"},{"t":469,"v":0.352,"s":"d"},{"t":480,"v":0.414,"s":"d"},{"t":493,"v":0.492,"s":"d"},{"t":502,"v":0.5,"s":"d"},{"t":515,"v":0.563,"s":"d"},{"t":528,"v":0.609,"s":"d"},{"t":537,"v":0.625,"s":"d"},{"t":542,"v":0.594,"s":"d"},{"t":551,"v":0.664,"s":"d"},{"t":557,"v":0.586,"s":"d"},{"t":564,"v":0.648,"s":"d"},{"t":572,"v":0.656,"s":"d"},{"t":581,"v":0.68,"s":"d"},{"t":590,"v":0.711,"s":"d"},{"t":603,"v":0.738,"s":"d"},{"t":612,"v":0.719,"s":"d"},{"t":625,"v":0.727,"s":"d"},{"t":638,"v":0.703,"s":"d"},{"t":647,"v":0.711,"s":"d"},{"t":656,"v":0.688,"s":"d"},{"t":665,"v":0.664,"s":"d"},{"t":673,"v":0.633,"s":"d"},{"t":680,"v":0.75,"s":"d"},{"t":688,"v":0.734,"s":"d"},{"t":697,"v":0.75,"s":"d"},{"t":708,"v":0.797,"s":"d"},{"t":716,"v":0.781,"s":"d"},{"t":730,"v":0.727,"s":"d"},{"t":741,"v":0.695,"s":"d"},{"t":747,"v":0.703,"s":"d"},{"t":756,"v":0.672,"s":"d"},{"t":769,"v":0.625,"s":"d"},{"t":778,"v":0.578,"s":"d"},{"t":786,"v":0.578,"s":"d"},{"t":795,"v":0.563,"s":"d"},{"t":802,"v":0.539,"s":"d"},{"t":813,"v":0.578,"s":"d"},{"t":821,"v":0.609,"s":"d"},{"t":834,"v":0.703,"s":"d"},{"t":843,"v":0.688,"s":"d"},{"t":852,"v":0.641,"s":"d"},{"t":858,"v":0.609,"s":"d"},{"t":865,"v":0.656,"s":"d"},{"t":872,"v":0.641,"s":"d"},{"t":878,"v":0.531,"s":"d"},{"t":887,"v":0.516,"s":"d"},{"t":896,"v":0.531,"s":"d"},{"t":902,"v":0.477,"s":"d"},{"t":913,"v":0.484,"s":"d"},{"t":922,"v":0.516,"s":"d"},{"t":930,"v":0.563,"s":"d"},{"t":939,"v":0.633,"s":"d"},{"t":948,"v":0.609,"s":"d"},{"t":957,"v":0.594,"s":"d"},{"t":965,"v":0.602,"s":"d"},{"t":974,"v":0.578,"s":"d"},{"t":983,"v":0.547,"s":"d"},{"t":996,"v":0.453,"s":"d"},{"t":1005,"v":0.456,"s":"d"},{"t":1013,"v":0.43,"s":"d"},{"t":1020,"v":0.375,"s":"d"},{"t":1026,"v":0.156,"s":"d"},{"t":1033,"v":0,"s":"d"},{"t":1039,"v":0.094,"s":"d"},{"t":1048,"v":0.102,"s":"d"},{"t":1057,"v":0.109,"s":"d"},{"t":1066,"v":0.141,"s":"d"},{"t":1074,"v":0.203,"s":"d"},{"t":1083,"v":0.18,"s":"d"},{"t":1092,"v":0.211,"s":"d"},{"t":1101,"v":0.219,"s":"d"},{"t":1109,"v":0.219,"s":"d"},{"t":1118,"v":0.234,"s":"d"},{"t":1127,"v":0.219,"s":"d"},{"t":1136,"v":0.275,"s":"d"},{"t":1145,"v":0.195,"s":"d"},{"t":1158,"v":0.234,"s":"d"},{"t":1169,"v":0.188,"s":"d"},{"t":1178,"v":0.133,"s":"d"},{"t":1185,"v":0.195,"s":"d"},{"t":1198,"v":0.219,"s":"d"},{"t":1211,"v":0.234,"s":"d"},{"t":1220,"v":0.25,"s":"d"},{"t":1233,"v":0.234,"s":"d"},{"t":1242,"v":0.234,"s":"d"},{"t":1251,"v":0.18,"s":"d"},{"t":1268,"v":0.175,"s":"d"},{"t":1275,"v":0.153,"s":"d"},{"t":1284,"v":0.195,"s":"d"},{"t":1295,"v":0.18,"s":"d"},{"t":1308,"v":0.203,"s":"d"},{"t":1321,"v":0.227,"s":"d"},{"t":1330,"v":0.227,"s":"d"},{"t":1343,"v":0.258,"s":"d"},{"t":1356,"v":0.313,"s":"d"},{"t":1363,"v":0.406,"s":"d"},{"t":1370,"v":0.5,"s":"d"},{"t":1381,"v":0.594,"s":"d"},{"t":1390,"v":0.539,"s":"d"},{"t":1398,"v":0.492,"s":"d"},{"t":1407,"v":0.563,"s":"d"},{"t":1418,"v":0.578,"s":"d"},{"t":1427,"v":0.664,"s":"d"},{"t":1436,"v":0.688,"s":"d"},{"t":1440,"v":0.633,"s":"d"},{"t":1447,"v":0.688,"s":"d"},{"t":1460,"v":0.703,"s":"d"},{"t":1466,"v":0.656,"s":"d"},{"t":1475,"v":0.602,"s":"d"},{"t":1484,"v":0.664,"s":"d"},{"t":1493,"v":0.711,"s":"d"},{"t":1502,"v":0.711,"s":"d"},{"t":1513,"v":0.633,"s":"d"},{"t":1522,"v":0.75,"s":"d"},{"t":1532,"v":0.813,"s":"d"},{"t":1543,"v":0.773,"s":"d"},{"t":1550,"v":0.781,"s":"d"},{"t":1559,"v":0.773,"s":"d"},{"t":1566,"v":0.891,"s":"d"},{"t":1574,"v":0.938,"s":"d"},{"t":1581,"v":0.969,"s":"d"},{"t":1588,"v":0.922,"s":"d"},{"t":1596,"v":0.961,"s":"d"},{"t":1605,"v":0.992,"s":"d"},{"t":1612,"v":0.992,"s":"d"},{"t":1618,"v":0.938,"s":"d"},{"t":1625,"v":0.891,"s":"d"},
{"t":195,"v":0.125,"s":"e"},{"t":203,"v":0.133,"s":"e"},{"t":216,"v":0.133,"s":"e"},{"t":233,"v":0.141,"s":"e"},{"t":255,"v":0.141,"s":"e"},{"t":269,"v":0.141,"s":"e"},{"t":273,"v":0.109,"s":"e"},{"t":278,"v":0.031,"s":"e"},{"t":291,"v":0.008,"s":"e"},{"t":304,"v":0.003,"s":"e"},{"t":317,"v":0,"s":"e"},{"t":326,"v":0.031,"s":"e"},{"t":335,"v":0.055,"s":"e"},{"t":339,"v":0.609,"s":"e"},{"t":348,"v":0.641,"s":"e"},{"t":355,"v":0.75,"s":"e"},{"t":361,"v":0.75,"s":"e"},{"t":370,"v":0.781,"s":"e"},{"t":377,"v":0.758,"s":"e"},{"t":383,"v":0.695,"s":"e"},{"t":392,"v":0.633,"s":"e"},{"t":405,"v":0.602,"s":"e"},{"t":414,"v":0.547,"s":"e"},{"t":427,"v":0.508,"s":"e"},{"t":436,"v":0.484,"s":"e"},{"t":454,"v":0.484,"s":"e"},{"t":462,"v":0.484,"s":"e"},{"t":471,"v":0.461,"s":"e"},{"t":489,"v":0.477,"s":"e"},{"t":498,"v":0.484,"s":"e"},{"t":511,"v":0.539,"s":"e"},{"t":524,"v":0.523,"s":"e"},{"t":537,"v":0.547,"s":"e"},{"t":546,"v":0.531,"s":"e"},{"t":555,"v":0.586,"s":"e"},{"t":568,"v":0.586,"s":"e"},{"t":577,"v":0.578,"s":"e"},{"t":595,"v":0.57,"s":"e"},{"t":612,"v":0.57,"s":"e"},{"t":630,"v":0.563,"s":"e"},{"t":636,"v":0.508,"s":"e"},{"t":652,"v":0.531,"s":"e"},{"t":665,"v":0.547,"s":"e"},{"t":673,"v":0.516,"s":"e"},{"t":686,"v":0.508,"s":"e"},{"t":708,"v":0.523,"s":"e"},{"t":712,"v":0.516,"s":"e"},{"t":730,"v":0.484,"s":"e"},{"t":751,"v":0.469,"s":"e"},{"t":773,"v":0.461,"s":"e"},{"t":795,"v":0.445,"s":"e"},{"t":813,"v":0.438,"s":"e"},{"t":830,"v":0.445,"s":"e"},{"t":839,"v":0.406,"s":"e"},{"t":856,"v":0.398,"s":"e"},{"t":865,"v":0.406,"s":"e"},{"t":874,"v":0.344,"s":"e"},{"t":887,"v":0.32,"s":"e"},{"t":900,"v":0.273,"s":"e"},{"t":913,"v":0.234,"s":"e"},{"t":926,"v":0.219,"s":"e"},{"t":943,"v":0.227,"s":"e"},{"t":952,"v":0.258,"s":"e"},{"t":965,"v":0.234,"s":"e"},{"t":978,"v":0.219,"s":"e"},{"t":996,"v":0.227,"s":"e"},{"t":1013,"v":0.222,"s":"e"},{"t":1026,"v":0.219,"s":"e"},{"t":1035,"v":0.175,"s":"e"},{"t":1048,"v":0.175,"s":"e"},{"t":1066,"v":0.18,"s":"e"},{"t":1083,"v":0.18,"s":"e"},{"t":1101,"v":0.175,"s":"e"},{"t":1127,"v":0.18,"s":"e"},{"t":1134,"v":0.18,"s":"e"},{"t":1138,"v":0.375,"s":"e"},{"t":1141,"v":0.375,"s":"e"},{"t":1154,"v":0.422,"s":"e"},{"t":1162,"v":0.422,"s":"e"},{"t":1169,"v":0.391,"s":"e"},{"t":1180,"v":0.391,"s":"e"},{"t":1202,"v":0.406,"s":"e"},{"t":1224,"v":0.419,"s":"e"},{"t":1246,"v":0.422,"s":"e"},{"t":1268,"v":0.422,"s":"e"},{"t":1290,"v":0.414,"s":"e"},{"t":1312,"v":0.43,"s":"e"},{"t":1334,"v":0.461,"s":"e"},{"t":1356,"v":0.484,"s":"e"},{"t":1361,"v":0.555,"s":"e"},{"t":1370,"v":0.875,"s":"e"},{"t":1376,"v":1,"s":"e"},{"t":1383,"v":0.992,"s":"e"},{"t":1389,"v":0.945,"s":"e"},{"t":1400,"v":0.922,"s":"e"},{"t":1413,"v":0.922,"s":"e"},{"t":1425,"v":0.961,"s":"e"},{"t":1431,"v":0.922,"s":"e"},{"t":1444,"v":0.922,"s":"e"},{"t":1462,"v":0.969,"s":"e"},{"t":1471,"v":0.875,"s":"e"},{"t":1480,"v":0.797,"s":"e"},{"t":1488,"v":0.797,"s":"e"},{"t":1502,"v":0.844,"s":"e"},{"t":1513,"v":0.75,"s":"e"},{"t":1524,"v":0.758,"s":"e"},{"t":1532,"v":0.758,"s":"e"},{"t":1546,"v":0.75,"s":"e"},{"t":1559,"v":0.773,"s":"e"},{"t":1577,"v":0.773,"s":"e"},{"t":1585,"v":0.797,"s":"e"},{"t":1603,"v":0.734,"s":"e"},{"t":1616,"v":0.797,"s":"e"},{"t":1625,"v":0.781,"s":"e"},
{"t":195,"v":1,"s":"f"},{"t":874,"v":1,"s":"f"},{"t":881,"v":0.547,"s":"f"},{"t":1358,"v":0.547,"s":"f"},{"t":1365,"v":0,"s":"f"},{"t":1377,"v":1,"s":"f"},{"t":1625,"v":1,"s":"f"}
],
"notes": [
{"t":684,"v":0.221,"txt":"곰지네 트레이딩 CVD"},
{"t":663,"v":0.086,"txt":"Powered By Material Indictors"},
{"t":1474,"v":-0.397,"txt":"https://t.me/oddstrading2"}
],
"mark": [
{"t":415,"v":0.259,"txt":"MATERIAL"},
{"t":426,"v":0.095,"txt":"INDICATORS"}
]
},
"vconcat": [
{
"title": {"text": "ETH_USDT", "anchor": "start", "frame": "group", "fontSize": 16, "fontWeight": "bold", "color": "#000", "font": "Liberation Sans", "offset": 10},
"width": 1087,
"height": 297,
"view": {"fill": "#0b0000", "stroke": null},
"resolve": {"axis": {"y": "independent"}},
"layer": [
{
"data": {"name": "heat"},
"mark": {"type": "rect", "clip": true, "strokeWidth": 1, "fillOpacity": 0},
"encoding": {
"x": {"field": "t", "type": "quantitative", "bin": {"binned": true, "step": 10}, "scale": {"domain": [195, 1625], "nice": false, "zero": false}, "axis": null},
"y": {"field": "p", "type": "quantitative", "bin": {"binned": true, "step": 50}, "scale": {"domain": [2900, 3213], "nice": false, "zero": false}, "axis": null},
"stroke": {"field": "v", "type": "quantitative",
"scale": {"type": "linear", "domain": [0, 14.6, 29.8, 40.01], "range": ["#0b0000", "#ff0000", "#ffff00", "#ffffff"], "interpolate": "rgb", "clamp": true},
"legend": null}
}
},
{
"data": {"name": "heat"},
"mark": {"type": "rect", "clip": true},
"encoding": {
"x": {"field": "t", "type": "quantitative", "bin": {"binned": true, "step": 10}, "axis": null},
"y": {"field": "p", "type": "quantitative", "bin": {"binned": true, "step": 50},
"axis": {"orient": "right", "values": [2950, 3000, 3050, 3100, 3150, 3200], "labelExpr": "format(datum.value / 1000, '.3f') + ' k'", "title": "Price [USDT]", "titleFontStyle": "italic", "titleFontWeight": "normal", "titleFontSize": 13, "titleColor": "#444", "titlePadding": 10, "labelFontSize": 12, "labelColor": "#444", "labelPadding": 4, "tickColor": "#444", "tickSize": 6, "domainColor": "#aaa", "grid": false}},
"fill": {"field": "v", "type": "quantitative",
"scale": {"type": "linear", "domain": [0, 14.6, 29.8, 40], "range": ["#0b0000", "#ff0000", "#ffff00", "#ffffff"], "interpolate": "rgb", "clamp": true},
"legend": {"type": "gradient", "orient": "none", "legendX": -103, "legendY": 21, "direction": "vertical", "gradientLength": 247, "gradientThickness": 30, "gradientStrokeColor": "#000", "gradientStrokeWidth": 1, "title": "Volume", "titleFontStyle": "italic", "titleFontWeight": "normal", "titleFontSize": 13, "titleColor": "#444", "titlePadding": 3, "labelFontSize": 12, "labelColor": "#444", "labelOffset": 6, "labelBaseline": "middle", "labelOverlap": false, "values": [0, 10, 20, 30, 40], "labelExpr": "datum.value == 0 ? '0' : format(datum.value, '.1f') + ' M'", "padding": 0}}
}
},
{
"data": {"name": "price"},
"mark": {"type": "line", "color": "#3b7db5", "strokeWidth": 2, "clip": true},
"encoding": {
"x": {"field": "t", "type": "quantitative", "axis": null},
"y": {"field": "price", "type": "quantitative", "axis": null}
}
},
{
"data": {"name": "price"},
"mark": {"type": "line", "strokeOpacity": 0},
"encoding": {
"x": {"field": "t", "type": "quantitative", "axis": null},
"y": {"field": "price", "type": "quantitative",
"axis": {"orient": "right", "values": [2910, 2920, 2930, 2940, 2960, 2970, 2980, 2990, 3010, 3020, 3030, 3040, 3060, 3070, 3080, 3090, 3110, 3120, 3130, 3140, 3160, 3170, 3180, 3190, 3210], "labels": false, "tickSize": 3, "tickColor": "#444", "domain": false, "grid": false, "title": null}}
}
}
]
},
{
"width": 1087,
"height": 214,
"resolve": {"axis": {"y": "independent"}},
"layer": [
{
"data": {"name": "cvd"},
"mark": {"type": "line", "strokeWidth": 2},
"encoding": {
"x": {"field": "t", "type": "quantitative", "scale": {"domain": [195, 1625], "nice": false, "zero": false},
"axis": {"values": [240, 480, 720, 960, 1200, 1440], "labelExpr": "datum.value == 1440 ? '11/10' : (datum.value / 60) + 'h'", "title": "Date (UTC)", "titleFontStyle": "italic", "titleFontWeight": "normal", "titleFontSize": 13, "titleColor": "#444", "titlePadding": 8, "labelFontSize": 12, "labelColor": "#444", "labelPadding": 7, "tickColor": "#000", "tickSize": 7, "domainColor": "#000", "grid": true, "gridColor": "#e5e5e5"}},
"y": {"field": "v", "type": "quantitative", "scale": {"domain": [0, 1], "nice": false},
"axis": {"orient": "left", "values": [0, 0.2, 0.4, 0.6, 0.8, 1], "labelExpr": "datum.value == 0 ? '0' : datum.value == 1 ? '1.000' : format(datum.value * 1000, '.2f') + ' m'", "title": "Normalized CVD [arb. u.]", "titleFontStyle": "italic", "titleFontWeight": "normal", "titleFontSize": 13, "titleColor": "#444", "titlePadding": 7, "labelFontSize": 12, "labelColor": "#444", "labelPadding": 8, "tickColor": "#000", "tickSize": 6, "domainColor": "#000", "grid": true, "gridColor": "#e5e5e5"}},
"stroke": {"field": "s", "type": "nominal",
"scale": {"domain": ["a", "b", "c", "d", "e", "f"], "range": ["#1f77b4", "#ff7f0e", "#2ca02c", "#d62728", "#9467bd", "#8c564b"]},
"legend": {"orient": "none", "legendX": -91, "legendY": 288, "direction": "horizontal", "title": null, "symbolType": "stroke", "symbolSize": 484, "symbolStrokeWidth": 2, "labelFontSize": 12, "labelColor": "#444", "labelOffset": 6, "columnPadding": 1, "padding": 12, "fillColor": "#fff", "strokeColor": "#e5e5e5",
"labelExpr": "datum.label == 'a' ? 'all orders' : datum.label == 'b' ? '$100 < i < $1k' : datum.label == 'c' ? '$1k < i < $10k' : datum.label == 'd' ? '$10k < i < $100k' : datum.label == 'e' ? '$100k < i < $1M' : '$1M < i < $10M'"}}
}
},
{
"data": {"name": "cvd"},
"mark": {"type": "line", "strokeOpacity": 0},
"encoding": {
"x": {"field": "t", "type": "quantitative"},
"y": {"field": "v", "type": "quantitative",
"axis": {"orient": "left", "values": [0.04, 0.08, 0.12, 0.16, 0.24, 0.28, 0.32, 0.36, 0.44, 0.48, 0.52, 0.56, 0.64, 0.68, 0.72, 0.76, 0.84, 0.88, 0.92, 0.96], "labels": false, "tickSize": 3, "tickColor": "#000", "domain": false, "grid": false, "title": null}}
}
},
{
"data": {"name": "mark"},
"mark": {"type": "text", "font": "DejaVu Sans", "fontWeight": "bold", "fontSize": 30, "color": "#9a9a9a", "opacity": 0.3, "align": "center", "baseline": "middle"},
"encoding": {
"x": {"field": "t", "type": "quantitative"},
"y": {"field": "v", "type": "quantitative", "axis": null},
"text": {"field": "txt"}
}
},
{
"data": {"name": "notes"},
"mark": {"type": "text", "font": "Noto Sans CJK KR", "fontSize": 26, "color": "#000", "align": "center", "baseline": "middle"},
"encoding": {
"x": {"field": "t", "type": "quantitative"},
"y": {"field": "v", "type": "quantitative", "axis": null},
"text": {"field": "txt"}
}
}
]
}
],
"spacing": 17,
"resolve": {"scale": {"x": "independent", "y": "independent", "fill": "independent", "stroke": "independent"}, "legend": {"fill": "independent", "stroke": "independent"}}
}
